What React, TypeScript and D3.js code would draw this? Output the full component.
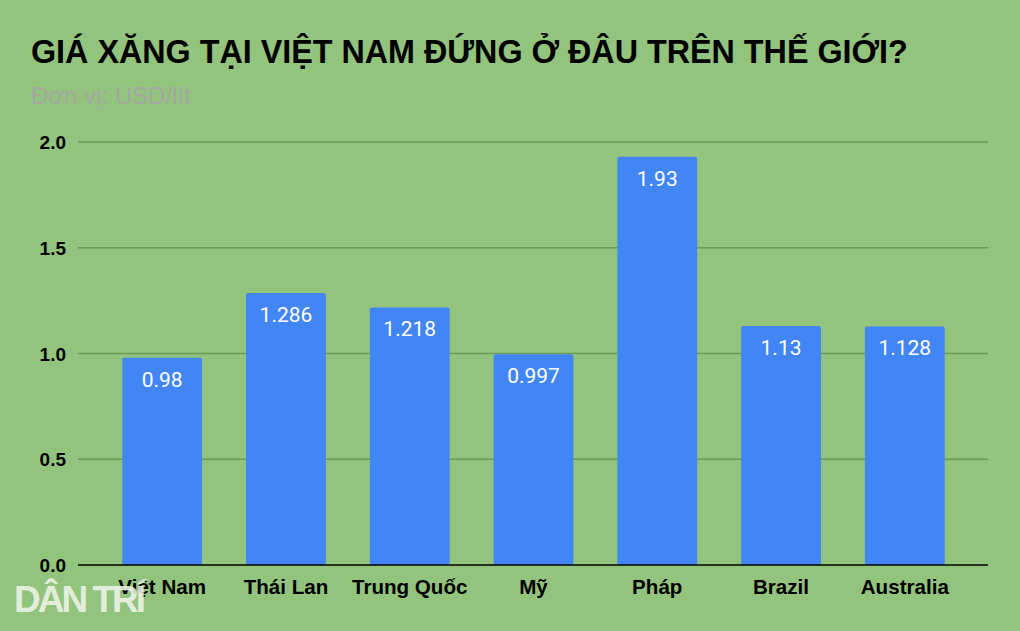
import React from 'react';
import * as d3 from 'd3';

const countries = ['Việt Nam', 'Thái Lan', 'Trung Quốc', 'Mỹ', 'Pháp', 'Brazil', 'Australia'];
const prices = [0.98, 1.286, 1.218, 0.997, 1.93, 1.13, 1.128];
const valueLabels = ['0.98', '1.286', '1.218', '0.997', '1.93', '1.13', '1.128'];
const yTicks = [0, 0.5, 1.0, 1.5, 2.0];

const W = 1020;
const H = 631;

export default function App() {
  const x = d3.scaleBand<string>().domain(countries).range([100, 967]).paddingInner(0.355).paddingOuter(0.18);
  const y = d3.scaleLinear().domain([0, 2]).range([565, 142]);

  return (
    <svg width={W} height={H} style={{ position: 'absolute', left: 0, top: 0, display: 'block' }}
      fontFamily="'Liberation Sans', Arial, sans-serif">
      <rect width={W} height={H} fill="#93c47d" />
      <text x={31} y={63} fontSize={32.3} fontWeight="bold" fill="#000">
        GIÁ XĂNG TẠI VIỆT NAM ĐỨNG Ở ĐÂU TRÊN THẾ GIỚI?
      </text>
      <text x={31} y={104} fontSize={24} fill="#a4a7a2">Đơn vị: USD/lít</text>

      {yTicks.map(t => (
        <g key={t}>
          {t > 0 && <line x1={78} x2={988} y1={y(t)} y2={y(t)} stroke="#6a9a55" strokeWidth={1.5} />}
          <text x={66} y={y(t) + 7} textAnchor="end" fontSize={19} fontWeight="bold" fill="#000">
            {t.toFixed(1)}
          </text>
        </g>
      ))}

      {countries.map((c, i) => (
        <g key={c}>
          <rect x={x(c)} y={y(prices[i])} width={x.bandwidth()} height={y(0) - y(prices[i])}
            rx={2} fill="#4285f4" />
          <text x={(x(c) as number) + x.bandwidth() / 2} y={y(prices[i]) + 29} textAnchor="middle"
            fontSize={21} fill="#fff" fontFamily="Roboto, sans-serif">{valueLabels[i]}</text>
          <text x={(x(c) as number) + x.bandwidth() / 2} y={594} textAnchor="middle"
            fontSize={20.6} fontWeight="bold" fill="#000">{c}</text>
        </g>
      ))}

      <line x1={78} x2={988} y1={y(0)} y2={y(0)} stroke="#000" strokeWidth={1.5} />

      <text x={14} y={612} fontSize={37} fontWeight="bold" fill="#eef3ea" fillOpacity={0.9}
        letterSpacing={-3} fontFamily="'Liberation Sans Narrow', 'Liberation Sans', Arial, sans-serif">DÂN TRÍ</text>
    </svg>
  );
}
